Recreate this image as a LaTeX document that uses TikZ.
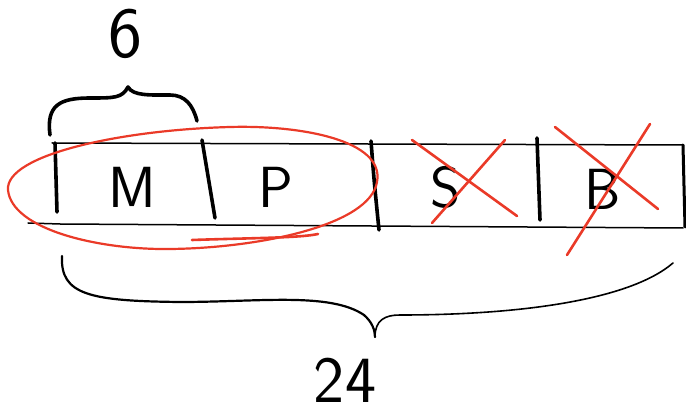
\documentclass[tikz,border=0pt]{standalone}
\usepackage{tikz}

\begin{document}
\begin{tikzpicture}[x=1pt,y=-1pt,line cap=round,line join=round,
  pen/.style={line width=1.5pt},
  bar/.style={line width=3.6pt},
  redpen/.style={draw=inkred,line width=2.6pt},
  letter/.style={font=\sffamily\fontsize{58}{58}\selectfont,inner sep=0pt},
  num/.style={font=\sffamily\fontsize{72}{72}\selectfont,inner sep=0pt}]
\definecolor{inkred}{RGB}{234,58,40}
\useasboundingbox (0,0) rectangle (686,414);

\node[num] (sizeTop) at (125,34) {6};
\node[num,font=\sffamily\fontsize{66}{66}\selectfont] (sizeAll) at (345,380) {24};

\node[letter] (cellM) at (132,187) {M};
\node[letter] (cellP) at (276,187) {P};
\node[letter] (cellS) at (446,187) {S};
\node[letter] (cellB) at (603,189) {B};

\draw [pen] (52,143) -- (683,145);
\draw [pen] (28,223) -- (60,224) -- (683,228);
\draw [line width=3pt] (683,145) -- (685,227);
\draw [bar] (55,143) -- (57,212);
\draw [bar] (202,140) -- (215,218);
\draw [bar] (371,141) .. controls (374,180) .. (379,230);
\draw [bar] (537,138) -- (540,220);

\draw [bar] (50,135) .. controls (46,105) and (60,98) .. (90,98) .. controls (115,98) and (122,98) .. (128,87)
  .. controls (133,96) and (150,95) .. (170,95) .. controls (185,95) and (193,105) .. (197,121);

\draw [line width=2.2pt] (62,256) .. controls (60,295) and (90,301) .. (180,302) .. controls (260,302) and (330,292) .. (364,315)
  .. controls (372,322) and (375,330) .. (375,337);
\draw [line width=1.6pt] (375,337) .. controls (375,320) and (385,315) .. (400,315) .. controls (520,315) and (630,300) .. (673,263);

\draw [draw=inkred,line width=2.2pt] (377,182) .. controls (385,140) and (300,125) .. (230,127) .. controls (120,130) and (5,155) .. (8,190)
  .. controls (12,230) and (100,250) .. (170,249) .. controls (260,248) and (370,225) .. (377,182);
\draw [redpen] (192,240) .. controls (250,238) and (300,238) .. (318,234);

\draw [redpen] (412,140) -- (517,216);
\draw [redpen] (432,223) -- (505,140);
\draw [redpen] (555,127) -- (658,209);
\draw [redpen] (650,124) -- (567,255);
\end{tikzpicture}
\end{document}
